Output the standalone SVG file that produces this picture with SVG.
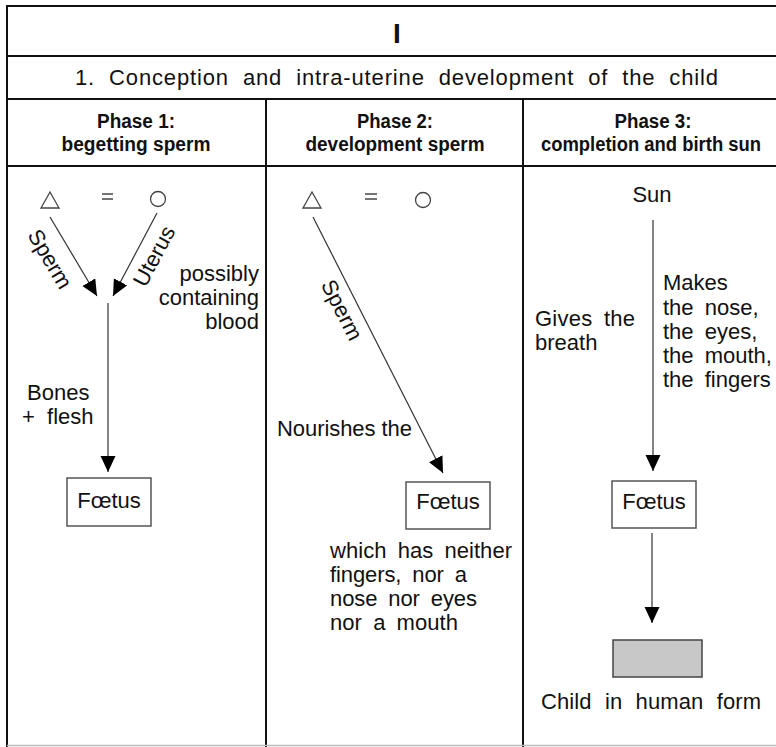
<svg xmlns="http://www.w3.org/2000/svg" width="776" height="747" viewBox="0 0 776 747">
<defs>
<style>
.t{font-family:"Liberation Sans",Arial,sans-serif;font-size:22px;fill:#111;}
.h{font-family:"Liberation Sans Narrow","Liberation Sans",Arial,sans-serif;font-size:20px;font-weight:bold;fill:#111;text-anchor:middle;}
.grid{stroke:#111;stroke-width:2;fill:none;}
.box{fill:#fff;stroke:#555;stroke-width:1.5;}
.con{stroke:#333;stroke-width:1.2;fill:none;marker-end:url(#ah);}
.sym{fill:none;stroke:#444;stroke-width:1.3;}
</style>
<marker id="ah" markerUnits="userSpaceOnUse" markerWidth="17" markerHeight="16" refX="16" refY="7.5" orient="auto">
<path d="M0,0 L16,7.5 L0,15 z" fill="#000"/>
</marker>
</defs>
<rect width="776" height="747" fill="#fff"/>
<g id="table">
<polyline points="776,6 7,6 7,747" class="grid"/>
<line x1="7" y1="56" x2="776" y2="56" class="grid"/>
<line x1="7" y1="99" x2="776" y2="99" class="grid"/>
<line x1="7" y1="166" x2="776" y2="166" class="grid"/>
<line x1="266" y1="99" x2="266" y2="747" class="grid"/>
<line x1="523" y1="99" x2="523" y2="747" class="grid"/>
<line x1="7" y1="745.5" x2="776" y2="745.5" stroke="#bbb" stroke-width="1.5"/>
<text x="397" y="43" font-family="Liberation Sans,Arial,sans-serif" font-size="28" font-weight="bold" text-anchor="middle" fill="#111">I</text>
<text class="t" x="75" y="85" word-spacing="7" textLength="643">1. Conception and intra-uterine development of the child</text>
<text class="h" x="136" y="128" textLength="78" lengthAdjust="spacingAndGlyphs">Phase 1:</text>
<text class="h" x="136" y="151" textLength="149" lengthAdjust="spacingAndGlyphs">begetting sperm</text>
<text class="h" x="395" y="128" textLength="76" lengthAdjust="spacingAndGlyphs">Phase 2:</text>
<text class="h" x="395" y="151" textLength="179" lengthAdjust="spacingAndGlyphs">development sperm</text>
<text class="h" x="653" y="128" textLength="77" lengthAdjust="spacingAndGlyphs">Phase 3:</text>
<text class="h" x="651" y="151" font-size="18.5" textLength="220" lengthAdjust="spacingAndGlyphs">completion and birth sun</text>
</g>
<g id="connectors">
<line class="con" x1="50" y1="217" x2="97" y2="296"/>
<line class="con" x1="157" y1="213" x2="113" y2="296"/>
<line class="con" x1="108" y1="303" x2="108" y2="472" stroke="#666" stroke-width="1.6"/>
<line class="con" x1="313" y1="217" x2="443" y2="473"/>
<line class="con" x1="653" y1="220" x2="653" y2="471"/>
<line class="con" x1="652" y1="533" x2="652" y2="623"/>
</g>
<g id="phase1">
<g id="p1-man"><polygon class="sym" points="50,192 59,208 41,208"/></g>
<g id="p1-eq"><line x1="102" y1="194" x2="113" y2="194" stroke="#444" stroke-width="1.5"/><line x1="102" y1="199" x2="113" y2="199" stroke="#444" stroke-width="1.5"/></g>
<g id="p1-woman"><circle class="sym" cx="158" cy="199" r="7.5"/></g>
<text class="t" x="50" y="266.5" text-anchor="middle" transform="rotate(59 50 259)">Sperm</text>
<text class="t" x="154" y="263.5" text-anchor="middle" transform="rotate(-62 154 256)">Uterus</text>
<text class="t" x="259" y="281" text-anchor="end">possibly</text>
<text class="t" x="259" y="305" text-anchor="end">containing</text>
<text class="t" x="259" y="329" text-anchor="end">blood</text>
<text class="t" x="27" y="400">Bones</text>
<text class="t" x="22" y="424" xml:space="preserve">+  flesh</text>
<g id="p1-foetus"><rect class="box" x="67" y="478" width="84" height="48"/><text class="t" x="109" y="508" text-anchor="middle">Fœtus</text></g>
</g>
<g id="phase2">
<g id="p2-man"><polygon class="sym" points="312,192 321,208 303,208"/></g>
<g id="p2-eq"><line x1="365" y1="194" x2="377" y2="194" stroke="#444" stroke-width="1.5"/><line x1="365" y1="199" x2="377" y2="199" stroke="#444" stroke-width="1.5"/></g>
<g id="p2-woman"><circle class="sym" cx="423" cy="200" r="7.5"/></g>
<text class="t" x="342" y="317.5" text-anchor="middle" transform="rotate(63 342 310)">Sperm</text>
<text class="t" x="277" y="436" textLength="135">Nourishes the</text>
<g id="p2-foetus"><rect class="box" x="406" y="482" width="84" height="47"/><text class="t" x="448" y="509" text-anchor="middle">Fœtus</text></g>
<text class="t" x="330" y="558" textLength="182" word-spacing="5">which has neither</text>
<text class="t" x="330" y="582" textLength="137" word-spacing="5">fingers, nor a</text>
<text class="t" x="330" y="606" textLength="147" word-spacing="5">nose nor eyes</text>
<text class="t" x="330" y="630" textLength="128" word-spacing="5">nor a mouth</text>
</g>
<g id="phase3">
<text class="t" x="652" y="202" text-anchor="middle">Sun</text>
<text class="t" x="535" y="326" textLength="100" word-spacing="5">Gives the</text>
<text class="t" x="535" y="350">breath</text>
<text class="t" x="663" y="290">Makes</text>
<text class="t" x="663" y="315" word-spacing="5">the nose,</text>
<text class="t" x="663" y="339" word-spacing="5">the eyes,</text>
<text class="t" x="663" y="363" word-spacing="5">the mouth,</text>
<text class="t" x="663" y="387" word-spacing="5">the fingers</text>
<g id="p3-foetus"><rect class="box" x="612" y="481" width="84" height="47"/><text class="t" x="654" y="509" text-anchor="middle">Fœtus</text></g>
<g id="p3-child"><rect x="613" y="640" width="89" height="37" fill="#c8c8c8" stroke="#444" stroke-width="1.5"/></g>
<text class="t" x="541" y="709" textLength="220" word-spacing="7">Child in human form</text>
</g>
</svg>
